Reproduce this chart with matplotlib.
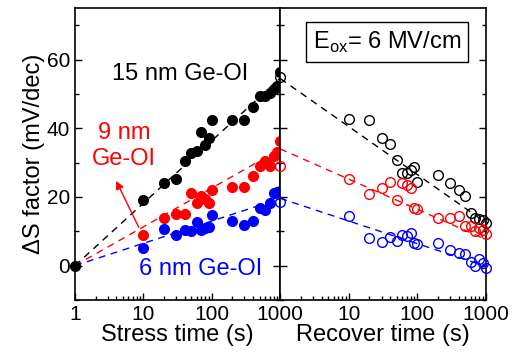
import numpy as np
import matplotlib.pyplot as plt

plt.rcParams['font.family'] = ['Liberation Sans', 'DejaVu Sans']

# stress phase (filled symbols)
t_stress = [10, 20, 30, 40, 50, 60, 70, 80, 90, 100, 200, 300, 400, 500, 600, 700, 800, 900, 1000]
s15 = [19.0, 24.2, 25.2, 30.4, 32.7, 33.5, 38.9, 35.0, 37.3, 42.4, 42.4, 42.4, 46.3, 49.4, 49.4, 50.2, 51.5, 52.4, 56.4]
s9 = [9.0, 13.9, 14.9, 14.9, 21.1, 18.3, 20.3, 19.5, 18.3, 22.1, 23.0, 23.0, 26.2, 29.1, 30.4, 29.1, 32.0, 33.0, 36.3]
s6 = [5.1, 10.8, 9.0, 10.3, 10.0, 12.7, 10.5, 10.9, 11.3, 14.7, 12.9, 11.7, 12.9, 16.7, 16.1, 18.3, 21.3, 21.5, 21.8]

# recovery phase (open symbols)
t_rec = [1, 10, 20, 30, 40, 50, 60, 70, 80, 90, 100, 200, 300, 400, 500, 600, 700, 800, 900, 1000]
r15 = [54.9, 42.8, 42.4, 37.3, 35.5, 30.9, 26.9, 26.9, 27.8, 28.6, 24.4, 26.5, 24.2, 22.1, 20.3, 15.4, 13.9, 13.7, 13.4, 12.3]
r9 = [29.1, 25.2, 20.8, 22.5, 24.4, 19.1, 24.2, 23.5, 22.5, 16.7, 16.6, 13.9, 13.9, 14.6, 11.5, 11.5, 10.2, 11.0, 10.5, 9.3]
r6 = [18.6, 14.6, 8.0, 6.9, 8.2, 7.1, 8.8, 8.5, 9.5, 6.6, 6.3, 6.6, 4.6, 3.6, 3.3, 1.2, 0.0, 1.9, 0.7, -0.6]

# log fits: value = a + b*log10(t)
fit_stress = {'black': (0, 18.2), 'red': (0, 11.3), 'blue': (0, 6.5)}
fit_rec = {'black': (54.5, -14.0), 'red': (34.0, -8.8), 'blue': (19.6, -6.6)}

fig = plt.figure(figsize=(5.17, 3.55), dpi=100)
ax1 = fig.add_axes([0.145, 0.155, 0.397, 0.822])
ax2 = fig.add_axes([0.542, 0.155, 0.398, 0.822])

tt = np.logspace(0, 3, 100)
for c, ys in [('black', s15), ('red', s9), ('blue', s6)]:
    a, b = fit_stress[c]
    ax1.plot(tt, a + b * np.log10(tt), ls=(0, (5, 4)), color=c, lw=1)
    ax1.plot(t_stress, ys, 'o', color=c, ms=7, clip_on=False, zorder=3)
ax1.plot([1], [0], 'o', color='black', ms=7, clip_on=False, zorder=3)

for c, ys in [('black', r15), ('red', r9), ('blue', r6)]:
    a, b = fit_rec[c]
    ax2.plot(tt, a + b * np.log10(tt), ls=(0, (5, 4)), color=c, lw=1)
    ax2.plot(t_rec, ys, 'o', mfc='none', mec=c, mew=1, ms=7, clip_on=False, zorder=3)

for ax in (ax1, ax2):
    ax.set_xscale('log')
    ax.set_xlim(1, 1000)
    ax.set_ylim(-10, 75)
    ax.set_yticks([0, 20, 40, 60])
    ax.set_yticks([-10, 10, 30, 50, 70], minor=True)
    ax.tick_params(which='both', direction='in', left=True, right=True, top=False, labelsize=15)
    ax.tick_params(which='major', length=5, width=1)
    ax.tick_params(which='minor', length=3, width=1)
    for sp in ax.spines.values():
        sp.set_linewidth(1.2)

ax1.set_xticks([1, 10, 100, 1000])
ax1.set_xticklabels(['1', '10', '100', '1000'])
ax2.set_xticks([1, 10, 100, 1000])
ax2.set_xticklabels(['', '10', '100', '1000'])
ax2.tick_params(labelleft=False)

ax1.set_xlabel('Stress time (s)', fontsize=17, labelpad=0)
ax2.set_xlabel('Recover time (s)', fontsize=17, labelpad=0)
ax1.set_ylabel('ΔS factor (mV/dec)', fontsize=17, labelpad=1)

ax1.text(0.51, 0.774, '15 nm Ge-OI', transform=ax1.transAxes, fontsize=17, color='black', ha='center', va='center')
ax1.text(0.24, 0.527, '9 nm\nGe-OI', transform=ax1.transAxes, fontsize=17, color='red', ha='center', va='center', linespacing=1.25)
ax1.text(0.61, 0.106, '6 nm Ge-OI', transform=ax1.transAxes, fontsize=17, color='blue', ha='center', va='center')
ax1.annotate('', xy=(3.84, 25.4), xytext=(8.9, 10.5),
             arrowprops=dict(arrowstyle='-|>', color='red', lw=1, mutation_scale=12))

ax2.text(0.52, 0.884, r'E$_{\mathregular{ox}}$= 6 MV/cm', transform=ax2.transAxes, fontsize=17,
         ha='center', va='center',
         bbox=dict(boxstyle='square,pad=0.3', fc='white', ec='black', lw=1))

fig.savefig('out.png', dpi=100)
